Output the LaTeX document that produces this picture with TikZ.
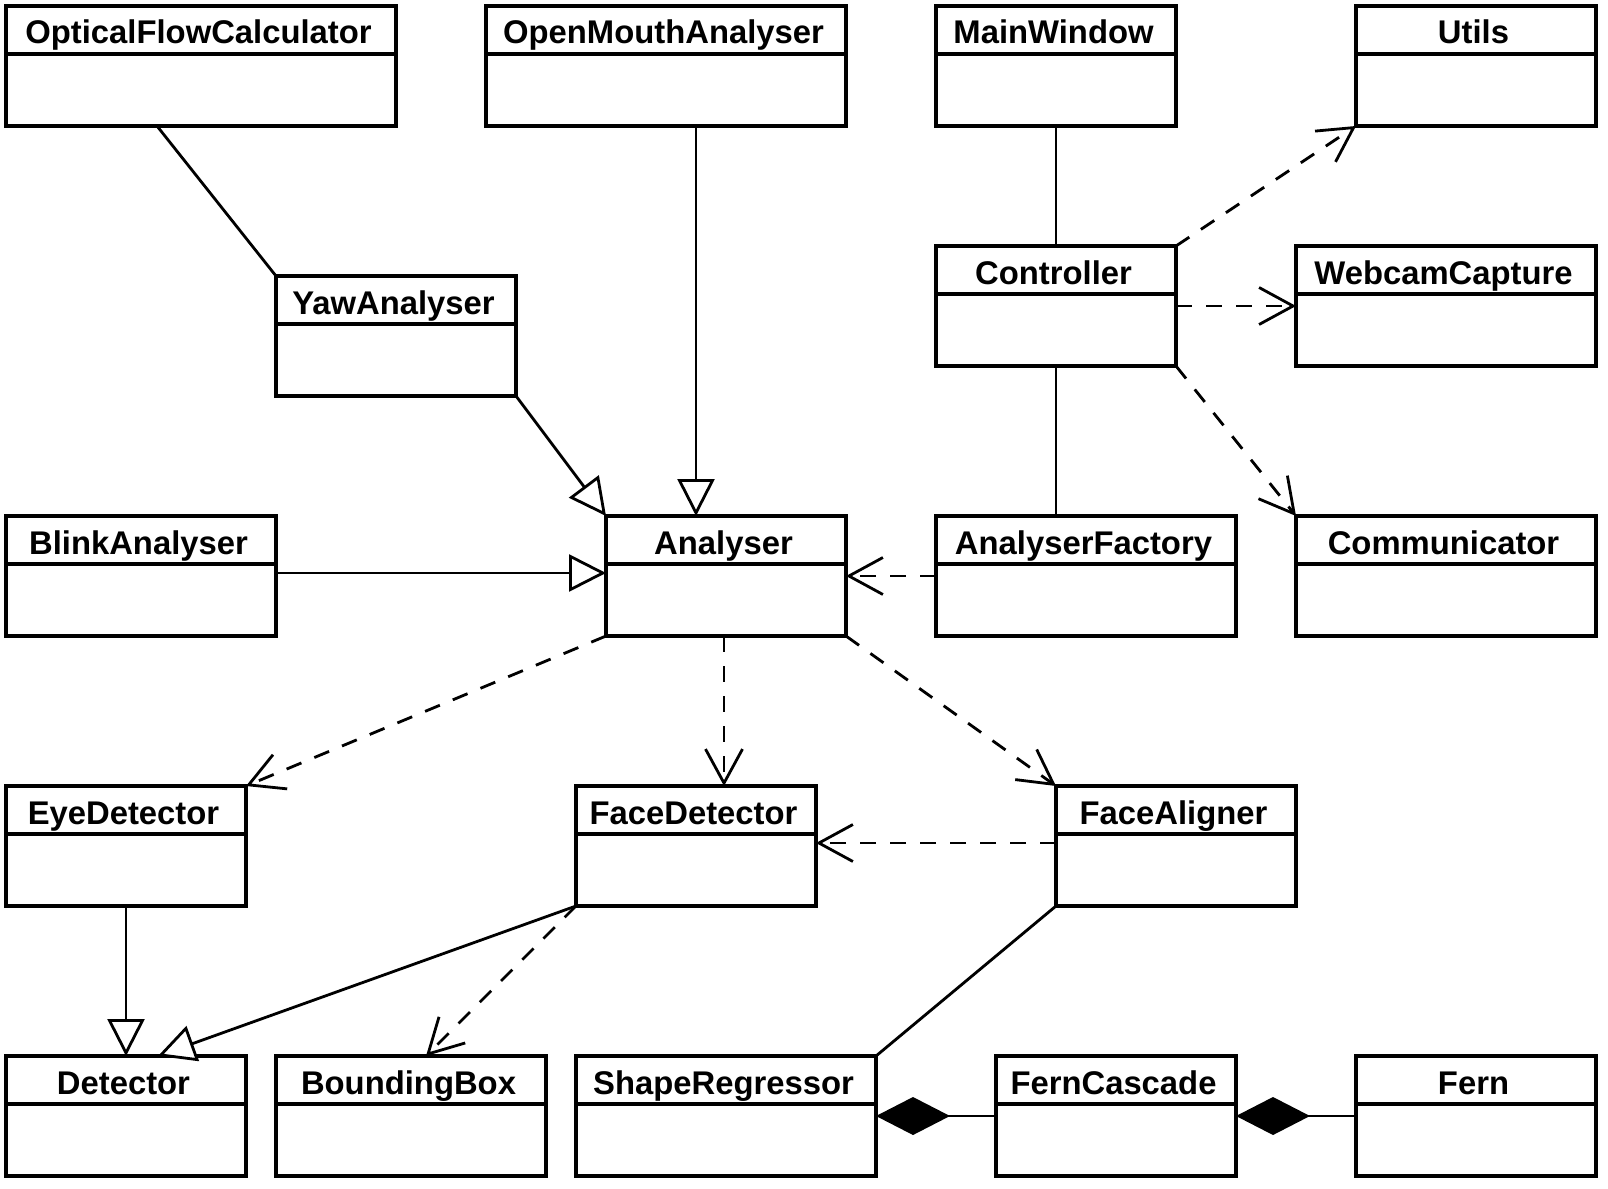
\documentclass[tikz,border=0pt]{standalone}
\usepackage{fontspec}
\setmainfont{Liberation Sans}
\usetikzlibrary{arrows.meta}
\tikzset{
  cls/.style={draw, line width=3.2pt, rectangle, inner sep=0pt, outer sep=0pt, fill=white},
  sepline/.style={line width=3.2pt},
  ttl/.style={anchor=base, inner sep=0pt, font=\fontsize{32.8}{33}\selectfont\bfseries},
  conn/.style={line width=2.8pt},
  dep/.style={conn, dash pattern=on 16pt off 14pt, -{Straight Barb[length=34pt,width=37pt,line width=2.8pt]}},
  gen/.style={conn, -{Triangle[open,length=37pt,width=37pt,line width=2.8pt,fill=white]}},
  comp/.style={conn, -{Diamond[length=74pt,width=38pt]}},
}
\newcommand\umlclass[6]{%
  \node[cls, minimum width={#4-#2}, minimum height={#5-#3}, anchor=north west] (#1) at (#2,#3) {};
  \draw[sepline] ([yshift=-48pt]#1.north west) -- ([yshift=-48pt]#1.north east);
  \node[ttl] (#1t) at ([xshift=-2.5pt,yshift=-38pt]#1.north) {#6};
}
\begin{document}
\begin{tikzpicture}[x=1pt,y=-1pt]
\useasboundingbox[fill=white] (0,0) rectangle (1608,1188);

\umlclass{ofc}{6}{6}{396}{126}{OpticalFlowCalculator}
\umlclass{oma}{486}{6}{846}{126}{OpenMouthAnalyser}
\umlclass{mw}{936}{6}{1176}{126}{MainWindow}
\umlclass{utils}{1356}{6}{1596}{126}{Utils}
\umlclass{yaw}{276}{276}{516}{396}{YawAnalyser}
\umlclass{ctrl}{936}{246}{1176}{366}{Controller}
\umlclass{webcam}{1296}{246}{1596}{366}{WebcamCapture}
\umlclass{blink}{6}{516}{276}{636}{BlinkAnalyser}
\umlclass{an}{606}{516}{846}{636}{Analyser}
\umlclass{af}{936}{516}{1236}{636}{AnalyserFactory}
\umlclass{comm}{1296}{516}{1596}{636}{Communicator}
\umlclass{eye}{6}{786}{246}{906}{EyeDetector}
\umlclass{fd}{576}{786}{816}{906}{FaceDetector}
\umlclass{fa}{1056}{786}{1296}{906}{FaceAligner}
\umlclass{det}{6}{1056}{246}{1176}{Detector}
\umlclass{bb}{276}{1056}{546}{1176}{BoundingBox}
\umlclass{sr}{576}{1056}{876}{1176}{ShapeRegressor}
\umlclass{fc}{996}{1056}{1236}{1176}{FernCascade}
\umlclass{fern}{1356}{1056}{1596}{1176}{Fern}

% associations
\draw[conn] ([xshift=151pt]ofc.south west) -- (yaw.north west);
\draw[conn] (mw.south) -- (ctrl.north);
\draw[conn] (ctrl.south) -- (ctrl.south |- af.north);
\draw[conn] (fa.south west) -- (sr.north east);

% generalizations
\draw[gen] (yaw.south east) -- (an.north west);
\draw[gen] ([xshift=210pt]oma.south west) -- ([xshift=90pt]an.north west);
\draw[gen] ([yshift=-57pt]blink.north east) -- ([yshift=-57pt]an.north west);
\draw[gen] (eye.south) -- (det.north);
\draw[gen] (fd.south west) -- ([xshift=152pt]det.north west);

% dependencies
\draw[dep] ([yshift=-60pt]af.north west) -- ([yshift=-60pt]an.north east);
\draw[dep] (ctrl.north east) -- (utils.south west);
\draw[dep] ([yshift=-60pt]ctrl.north east) -- ([yshift=-60pt]webcam.north west);
\draw[dep] (ctrl.south east) -- (comm.north west);
\draw[dep] (an.south west) -- (eye.north east);
\draw[dep] ([xshift=118pt]an.south west) -- ([xshift=148pt]fd.north west);
\draw[dep] (an.south east) -- (fa.north west);
\draw[dep] ([yshift=-57pt]fa.north west) -- ([yshift=-57pt]fd.north east);
\draw[dep] (fd.south west) -- ([xshift=150pt]bb.north west);

% compositions
\draw[comp] ([yshift=-60pt]fc.north west) -- ([yshift=-60pt]sr.north east);
\draw[comp] ([yshift=-60pt]fern.north west) -- ([yshift=-60pt]fc.north east);
\end{tikzpicture}
\end{document}
